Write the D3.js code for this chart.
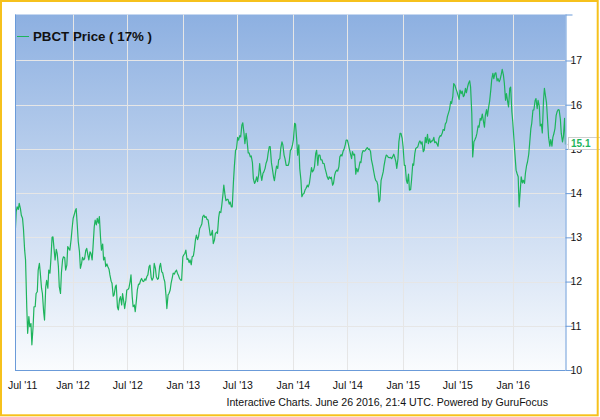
<!DOCTYPE html>
<html><head><meta charset="utf-8">
<script src="https://cdn.jsdelivr.net/npm/d3@7"></script>
<style>
body{margin:0;background:#fff}
svg{display:block}
text{font-family:"Liberation Sans",Arial,Helvetica,sans-serif}
</style>
</head><body>
<svg id="chart" width="600" height="417"></svg>
<script>
// ---------- data ----------
const seriesName = "PBCT Price ( 17% )";
const firstWeek = "2011-06-24";
const lastWeek = "2016-06-24";
// Friday closes, 2011-06-24 .. 2016-06-24
const fridayClose = [
  13.00, 13.69, 13.77, 13.50, 13.20, 12.49, 10.83, 10.98, 10.57, 11.43,
  11.73, 12.26, 12.19, 11.73, 11.13, 12.03, 12.26, 12.49, 13.01, 12.49,
  12.64, 11.88, 12.19, 12.56, 12.26, 12.79, 12.71, 13.16, 13.50, 13.65,
  12.90, 12.30, 12.55, 12.52, 12.75, 12.49, 12.64, 12.79, 13.39, 13.43,
  13.47, 12.71, 12.49, 12.34, 12.34, 12.15, 11.96, 11.70, 11.92, 11.36,
  11.66, 11.73, 11.39, 11.81, 11.85, 12.15, 11.43, 11.32, 11.81, 11.94,
  12.07, 12.00, 12.03, 12.15, 12.37, 12.03, 12.41, 12.11, 12.07, 12.41,
  12.20, 12.00, 11.39, 11.73, 11.96, 12.19, 12.22, 12.19, 12.07, 12.03,
  12.60, 12.71, 12.52, 12.49, 12.56, 12.71, 13.05, 13.01, 13.24, 13.47,
  13.45, 13.41, 13.24, 13.05, 12.86, 13.09, 13.09, 13.58, 13.71, 14.18,
  13.83, 13.86, 13.80, 13.69, 14.60, 15.00, 15.20, 15.27, 15.59, 15.12,
  15.20, 14.91, 14.84, 14.33, 14.26, 14.26, 14.67, 14.29, 14.48, 14.67,
  14.90, 15.05, 14.56, 14.28, 14.61, 14.75, 15.01, 15.09, 14.78, 14.63,
  14.71, 14.99, 15.21, 15.56, 14.86, 14.56, 13.92, 13.99, 14.11, 14.14,
  14.37, 14.48, 14.60, 14.97, 14.86, 14.75, 14.67, 14.56, 14.37, 14.37,
  14.36, 14.22, 14.48, 14.50, 14.82, 14.84, 14.99, 15.20, 15.12, 14.90,
  14.94, 14.88, 14.56, 14.56, 14.69, 14.96, 14.96, 15.03, 15.00, 14.75,
  14.51, 14.29, 14.18, 13.84, 14.37, 14.63, 14.86, 14.81, 14.81, 14.82,
  14.82, 14.56, 15.16, 15.35, 15.05, 14.63, 14.22, 14.07, 14.29, 14.63,
  15.01, 15.05, 15.18, 15.16, 14.97, 15.14, 15.12, 15.14, 15.18, 15.14,
  15.12, 15.24, 15.29, 15.44, 15.56, 15.73, 15.89, 16.03, 16.48, 16.37,
  16.22, 16.33, 16.31, 16.21, 16.27, 16.48, 16.40, 14.82, 15.20, 15.35,
  15.49, 15.65, 15.65, 15.76, 15.74, 16.07, 16.56, 16.59, 16.72, 16.59,
  16.57, 16.80, 16.49, 16.25, 15.95, 16.40, 15.61, 14.90, 14.45, 13.69,
  14.37, 14.29, 14.45, 14.71, 15.12, 15.58, 15.88, 16.14, 16.10, 15.52,
  15.36, 16.37, 16.04, 15.26, 15.21, 15.26, 15.46, 15.84, 15.88, 15.35,
  15.27, 15.10
];
// Tuesday closes, 2011-06-28 .. 2016-06-21
const tuesdayClose = [
  13.58, 13.63, 13.65, 13.43, 12.71, 11.43, 11.21, 11.05, 10.98, 11.43,
  11.77, 12.41, 11.85, 11.32, 11.88, 11.85, 12.19, 13.00, 12.71, 12.73,
  12.34, 11.73, 12.50, 12.54, 12.37, 12.74, 12.94, 13.43, 13.60, 13.24,
  12.67, 12.41, 12.49, 12.71, 12.60, 12.67, 12.49, 13.24, 13.28, 13.32,
  12.98, 12.85, 12.55, 12.40, 12.28, 12.01, 11.67, 11.88, 11.42, 11.60,
  11.47, 11.54, 11.58, 11.82, 12.00, 11.66, 11.47, 11.58, 11.94, 12.03,
  12.01, 12.06, 12.12, 12.34, 12.09, 12.09, 12.30, 12.05, 12.34, 12.22,
  12.07, 11.70, 11.70, 11.81, 12.09, 12.17, 12.26, 12.13, 12.03, 12.56,
  12.64, 12.50, 12.43, 12.38, 12.58, 12.95, 12.95, 13.20, 13.30, 13.50,
  13.47, 13.39, 13.05, 13.16, 12.94, 13.12, 13.45, 13.56, 13.96, 13.96,
  13.86, 13.75, 13.69, 14.26, 14.97, 15.26, 15.30, 15.54, 15.35, 15.35,
  14.91, 14.82, 14.69, 14.22, 14.37, 14.43, 14.41, 14.45, 14.56, 14.75,
  15.05, 14.69, 14.37, 14.48, 14.56, 14.78, 15.16, 14.86, 14.63, 14.63,
  14.97, 15.09, 15.58, 15.20, 15.09, 14.29, 13.98, 14.08, 14.18, 14.22,
  14.58, 14.52, 14.90, 14.63, 14.86, 14.75, 14.67, 14.46, 14.31, 14.33,
  14.18, 14.41, 14.52, 14.60, 14.87, 14.95, 15.09, 15.20, 14.99, 14.78,
  14.86, 14.43, 14.48, 14.71, 14.90, 14.95, 15.00, 14.99, 14.94, 14.63,
  14.36, 14.26, 13.80, 14.29, 14.48, 14.78, 14.84, 14.80, 14.78, 14.88,
  14.71, 14.78, 15.35, 15.24, 14.63, 14.29, 14.43, 14.08, 14.66, 14.90,
  15.03, 15.15, 15.11, 14.94, 15.26, 15.33, 15.23, 15.18, 15.26, 15.16,
  15.06, 15.30, 15.36, 15.42, 15.61, 15.82, 16.07, 16.19, 16.44, 16.29,
  16.12, 16.25, 16.18, 16.37, 16.40, 16.54, 15.80, 15.16, 15.27, 15.52,
  15.69, 15.79, 15.49, 15.89, 15.95, 16.33, 16.71, 16.71, 16.54, 16.52,
  16.69, 16.67, 16.10, 16.07, 16.37, 15.84, 15.20, 14.52, 14.37, 14.07,
  14.23, 14.22, 14.63, 14.88, 15.46, 15.88, 16.09, 15.91, 15.97, 15.56,
  16.10, 16.18, 15.59, 15.06, 15.06, 15.36, 15.76, 15.89, 15.67, 15.16,
  15.69
];
const yTickValues = [10, 11, 12, 13, 14, 15, 16, 17];
const xTickDates = ["2011-07-01","2012-01-01","2012-07-01","2013-01-01","2013-07-01",
                    "2014-01-01","2014-07-01","2015-01-01","2015-07-01","2016-01-01"];
const xTickLabels = ["Jul '11","Jan '12","Jul '12","Jan '13","Jul '13",
                     "Jan '14","Jul '14","Jan '15","Jul '15","Jan '16"];
const lastValueLabel = "15.1";
const creditText = "Interactive Charts. June 26 2016, 21:4 UTC. Powered by GuruFocus";

// ---------- build ----------
const parse = d3.utcParse("%Y-%m-%d");
const start = parse(firstWeek), end = parse(lastWeek);
const fridays = d3.utcFriday.range(start, d3.utcDay.offset(end, 1));
const tuesdays = d3.utcTuesday.range(start, end);
const data = [];
fridays.forEach((d, i) => { if (i < fridayClose.length) data.push({date: d, value: fridayClose[i]}); });
tuesdays.forEach((d, i) => { if (i < tuesdayClose.length) data.push({date: d, value: tuesdayClose[i]}); });
data.sort((a, b) => a.date - b.date);

const svg = d3.select("#chart");
const W = 600, H = 417;
const plot = {left: 15, right: 565.5, top: 14.5, bottom: 370};

const x = d3.scaleUtc().domain([start, end]).range([plot.left, plot.right]);
const y = d3.scaleLinear().domain([10, 18.04]).range([plot.bottom, plot.top]);

const green = "#1db45c";
const axisBlue = "#6b9bd9";

svg.append("rect").attr("width", W).attr("height", H).attr("fill", "#fff");

const defs = svg.append("defs");
const grad = defs.append("linearGradient").attr("id", "bg").attr("x1", 0).attr("y1", 0).attr("x2", 0).attr("y2", 1);
grad.append("stop").attr("offset", "0%").attr("stop-color", "#8db0e1");
grad.append("stop").attr("offset", "100%").attr("stop-color", "#fafcfe");

svg.append("rect")
  .attr("x", plot.left).attr("y", plot.top)
  .attr("width", plot.right - plot.left).attr("height", plot.bottom - plot.top)
  .attr("fill", "url(#bg)");

// horizontal grid
svg.append("g").selectAll("line").data(yTickValues.filter(v => v > 10)).join("line")
  .attr("x1", plot.left).attr("x2", plot.right)
  .attr("y1", d => Math.round(y(d)) + 0.5).attr("y2", d => Math.round(y(d)) + 0.5)
  .attr("stroke", "#e6e6e6").attr("stroke-width", 1);

// vertical grid
const xTicks = xTickDates.map((d, i) => ({date: parse(d), label: xTickLabels[i]}));
svg.append("g").selectAll("line").data(xTicks.slice(1)).join("line")
  .attr("x1", d => Math.round(x(d.date)) + 0.5).attr("x2", d => Math.round(x(d.date)) + 0.5)
  .attr("y1", plot.top).attr("y2", plot.bottom)
  .attr("stroke", "#e6e6e6").attr("stroke-width", 1);

// price line
const clip = defs.append("clipPath").attr("id", "clip");
clip.append("rect").attr("x", plot.left).attr("y", plot.top)
  .attr("width", plot.right - plot.left).attr("height", plot.bottom - plot.top);

svg.append("path").datum(data)
  .attr("clip-path", "url(#clip)")
  .attr("fill", "none").attr("stroke", green).attr("stroke-width", 1.2)
  .attr("stroke-linejoin", "round")
  .attr("d", d3.line().x(d => x(d.date)).y(d => y(d.value)));

// left axis line
svg.append("line").attr("x1", plot.left + 0.5).attr("x2", plot.left + 0.5)
  .attr("y1", plot.top).attr("y2", plot.bottom).attr("stroke", axisBlue).attr("stroke-width", 1);

// bottom axis
const xAxis = d3.axisBottom(x).tickValues(xTicks.map(d => d.date))
  .tickFormat((d, i) => xTickLabels[i]).tickSize(0).tickPadding(12);
const gx = svg.append("g").attr("transform", `translate(0,${plot.bottom})`).call(xAxis);
gx.select(".domain").attr("stroke", axisBlue).attr("d", `M${plot.left},0.5H${plot.right}`);
gx.selectAll("text").attr("font-size", "10.5px").attr("fill", "#111")
  .attr("x", (d, i) => i === 0 ? 5 : 0);

// right axis
const yAxis = d3.axisRight(y).tickValues(yTickValues.concat([18.04])).tickSize(7).tickPadding(-2)
  .tickFormat(d => d > 17.5 ? "" : d3.format("d")(d));
const gy = svg.append("g").attr("transform", `translate(${plot.right},0)`).call(yAxis);
gy.select(".domain").attr("stroke", axisBlue).attr("d", `M0.5,${plot.top}V${plot.bottom}`);
gy.selectAll(".tick line").attr("stroke", axisBlue);
gy.selectAll(".tick text").attr("font-size", "10.5px").attr("fill", "#111");

// legend
svg.append("line").attr("x1", 17).attr("x2", 29).attr("y1", 36.5).attr("y2", 36.5)
  .attr("stroke", green).attr("stroke-width", 1);
svg.append("text").attr("x", 33).attr("y", 41)
  .attr("font-size", "13.3px").attr("font-weight", "bold").attr("fill", "#111")
  .text(seriesName);

// last value label
const lastY = y(data[data.length - 1].value);
svg.append("path")
  .attr("d", `M${plot.right + 2},${lastY} L${plot.right + 3.5},${lastY - 3} L${plot.right + 3.5},${lastY + 3} Z`)
  .attr("fill", "#bbb");
svg.append("rect").attr("x", plot.right + 3).attr("y", lastY - 7).attr("width", 34).attr("height", 12)
  .attr("fill", "#fff").attr("stroke", "#cfcfcf").attr("stroke-width", 1);
svg.append("text").attr("x", plot.right + 5.5).attr("y", lastY + 3)
  .attr("font-size", "10px").attr("font-weight", "bold").attr("fill", green)
  .text(lastValueLabel);

// credit
svg.append("text").attr("x", 548).attr("y", 405.5).attr("text-anchor", "end")
  .attr("font-size", "10.6px").attr("fill", "#111").text(creditText);

// outer border
svg.append("rect").attr("x", 1).attr("y", 1).attr("width", 596.7).attr("height", 414.3)
  .attr("fill", "none").attr("stroke", "#f6c11c").attr("stroke-width", 2);
</script>
</body></html>
